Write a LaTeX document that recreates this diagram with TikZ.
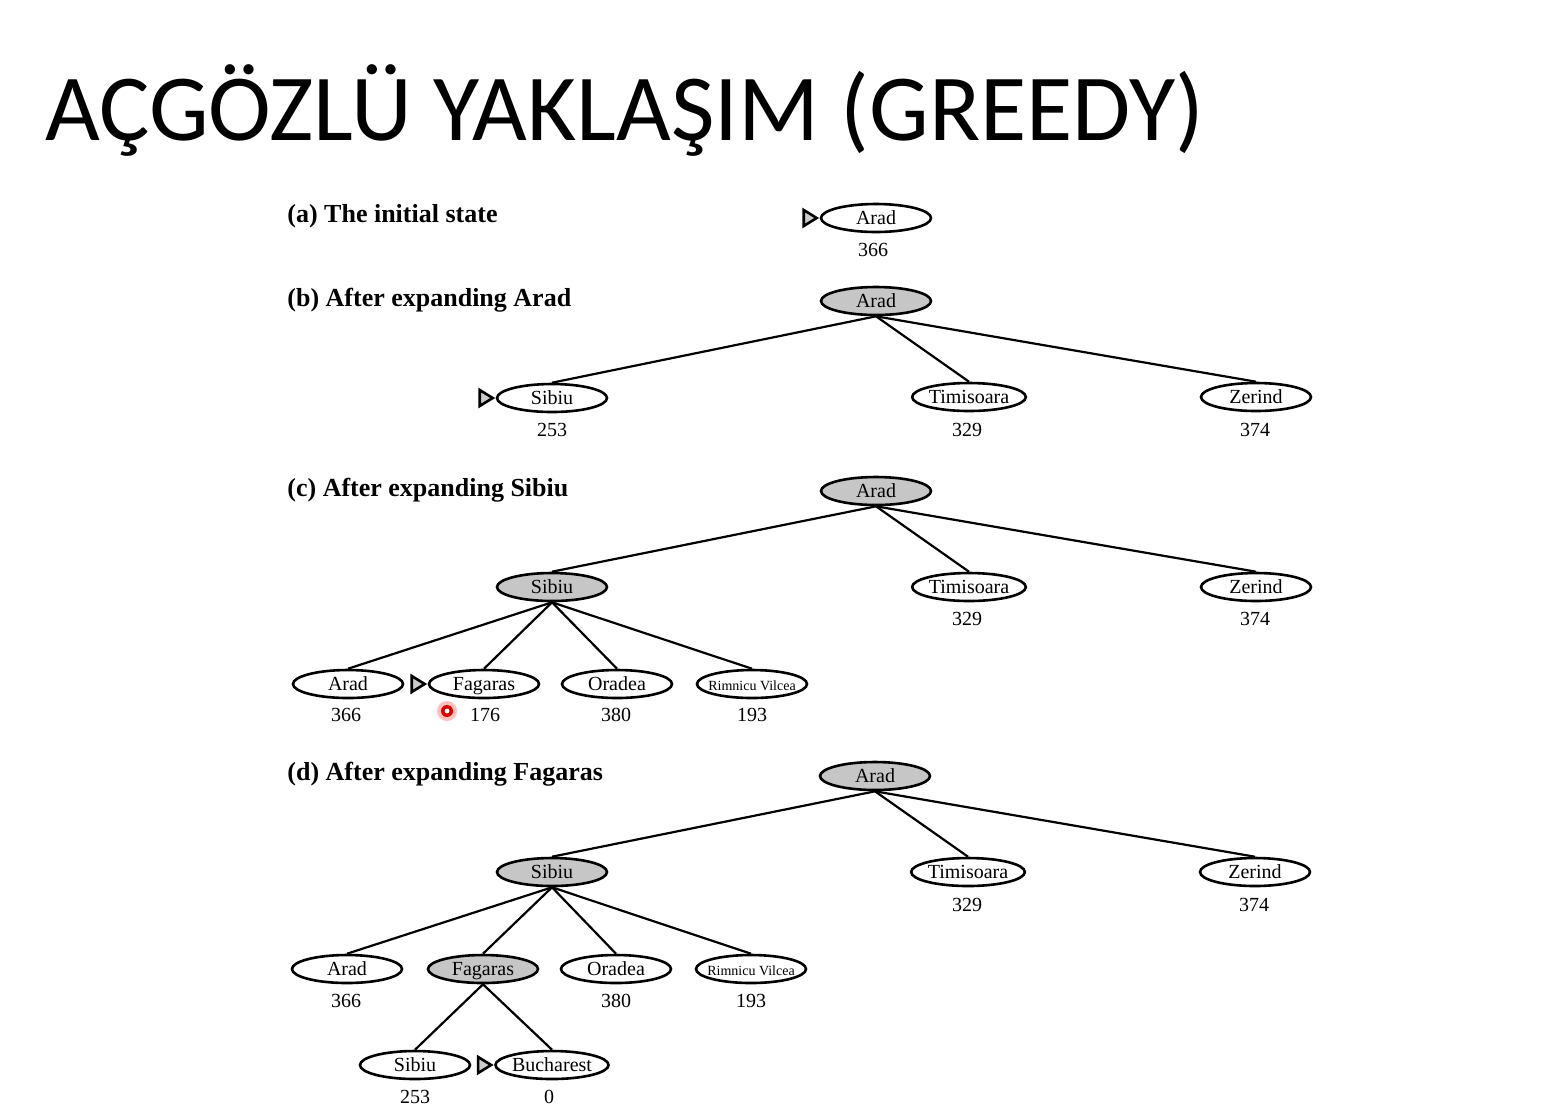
\documentclass[tikz,border=0pt]{standalone}
\usepackage{fontspec}
\setmainfont{Liberation Serif}
\newfontfamily\titlefont{Carlito}
\usetikzlibrary{shapes.geometric}

\tikzset{
  city/.style={ellipse, draw, line width=1.3pt, minimum width=55pt, minimum height=14pt,
    inner sep=0pt, text height=8pt, text depth=1.4pt, font=\fontsize{10}{10}\selectfont},
  longcity/.style={city, inner xsep=-5pt, font=\fontsize{7}{7}\selectfont},
  expanded/.style={city, fill=gray!45},
  hval/.style={font=\fontsize{10}{10}\selectfont},
  caption/.style={anchor=base west, inner sep=0pt, font=\fontsize{13}{13}\selectfont\bfseries},
  link/.style={line width=1.1pt},
  startmark/.style={line width=1.3pt, fill=gray!40}
}
\newcommand{\startat}[1]{%
  \draw[startmark] ([xshift=-1.5pt]#1.west) -- ++(-6.5pt,4pt) -- ++(0,-8pt) -- cycle;}

\begin{document}
\begin{tikzpicture}[x=0.5pt,y=-0.5pt]
  \useasboundingbox (0,0) rectangle (1556,1110);
  % title
  \node[anchor=base west, inner sep=0pt, font=\titlefont\fontsize{47.3}{47.3}\selectfont]
    (title) at (45,140) {AÇGÖZLÜ YAKLAŞIM (GREEDY)};

  % (a)
  \node[caption] (capa) at (287,222) {(a) The initial state};
  \node[city] (a0) at (876,218) {Arad};
  \startat{a0}
  \node[hval] (a0h) at (873,250) {366};

  % (b)
  \node[caption] (capb) at (287,306) {(b) After expanding Arad};
  \node[expanded] (b0) at (876,301) {Arad};
  \node[city] (b1) at (552,398) {Sibiu};
  \node[city] (b2) at (969,397) {Timisoara};
  \node[city] (b3) at (1256,397) {Zerind};
  \startat{b1}
  \node[hval] (b1h) at (552,430) {253};
  \node[hval] (b2h) at (967,430) {329};
  \node[hval] (b3h) at (1255,430) {374};
  \draw[link] (b0.south) -- (b1.north);
  \draw[link] (b0.south) -- (b2.north);
  \draw[link] (b0.south) -- (b3.north);

  % (c)
  \node[caption] (capc) at (287,496) {(c) After expanding Sibiu};
  \node[expanded] (c0) at (876,491) {Arad};
  \node[expanded] (c1) at (552,587) {Sibiu};
  \node[city] (c2) at (969,587) {Timisoara};
  \node[city] (c3) at (1256,587) {Zerind};
  \node[hval] (c2h) at (967,619) {329};
  \node[hval] (c3h) at (1255,619) {374};
  \node[city] (c11) at (348,684) {Arad};
  \node[city] (c12) at (484,684) {Fagaras};
  \node[city] (c13) at (617,684) {Oradea};
  \node[longcity] (c14) at (752,684) {Rimnicu Vilcea};
  \startat{c12}
  \node[hval] (c11h) at (346,715) {366};
  \node[hval] (c12h) at (485,715) {176};
  \node[hval] (c13h) at (616,715) {380};
  \node[hval] (c14h) at (752,715) {193};
  \draw[link] (c0.south) -- (c1.north);
  \draw[link] (c0.south) -- (c2.north);
  \draw[link] (c0.south) -- (c3.north);
  \foreach \k in {c11,c12,c13,c14}
    \draw[link] (c1.south) -- (\k.north);
  % pointer dot
  \fill[red!25] (447,711) circle (5pt);
  \fill[red!85!black] (447,711) circle (3pt);
  \fill[white] (447,711) circle (1.2pt);

  % (d)
  \node[caption] (capd) at (287,780) {(d) After expanding Fagaras};
  \node[expanded] (d0) at (875,776) {Arad};
  \node[expanded] (d1) at (552,872) {Sibiu};
  \node[city] (d2) at (968,872) {Timisoara};
  \node[city] (d3) at (1255,872) {Zerind};
  \node[hval] (d2h) at (967,905) {329};
  \node[hval] (d3h) at (1254,905) {374};
  \node[city] (d11) at (347,969) {Arad};
  \node[expanded] (d12) at (483,969) {Fagaras};
  \node[city] (d13) at (616,969) {Oradea};
  \node[longcity] (d14) at (751,969) {Rimnicu Vilcea};
  \node[hval] (d11h) at (346,1001) {366};
  \node[hval] (d13h) at (616,1001) {380};
  \node[hval] (d14h) at (751,1001) {193};
  \node[city] (d121) at (415,1065) {Sibiu};
  \node[city] (d122) at (552,1065) {Bucharest};
  \startat{d122}
  \node[hval] (d121h) at (415,1097) {253};
  \node[hval] (d122h) at (549,1097) {0};
  \draw[link] (d0.south) -- (d1.north);
  \draw[link] (d0.south) -- (d2.north);
  \draw[link] (d0.south) -- (d3.north);
  \foreach \k in {d11,d12,d13,d14}
    \draw[link] (d1.south) -- (\k.north);
  \draw[link] (d12.south) -- (d121.north);
  \draw[link] (d12.south) -- (d122.north);
\end{tikzpicture}
\end{document}
